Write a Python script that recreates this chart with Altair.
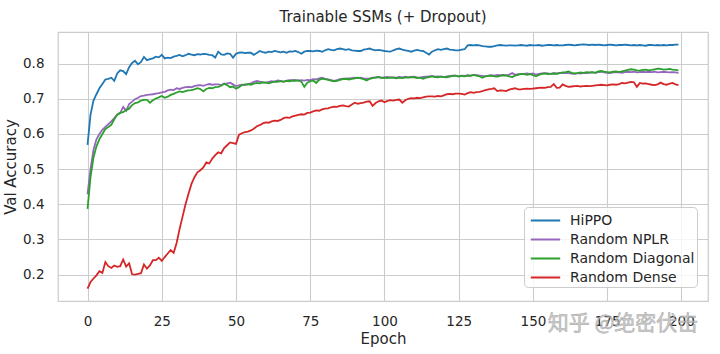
import altair as alt
import pandas as pd

epochs = list(range(200))

hippo = [
    0.569, 0.655, 0.695, 0.713, 0.730, 0.742, 0.755, 0.757, 0.760, 0.751,
    0.772, 0.781, 0.779, 0.770, 0.790, 0.802, 0.808, 0.798, 0.805, 0.819,
    0.810, 0.813, 0.815, 0.820, 0.818, 0.825, 0.815, 0.817, 0.816, 0.820,
    0.822, 0.825, 0.821, 0.824, 0.828, 0.826, 0.824, 0.827, 0.826, 0.828,
    0.827, 0.825, 0.824, 0.817, 0.834, 0.826, 0.825, 0.829, 0.828, 0.817,
    0.828, 0.831, 0.832, 0.830, 0.831, 0.831, 0.825, 0.830, 0.836, 0.833,
    0.831, 0.834, 0.833, 0.836, 0.834, 0.832, 0.834, 0.831, 0.835, 0.834,
    0.836, 0.833, 0.828, 0.834, 0.836, 0.836, 0.835, 0.837, 0.836, 0.834,
    0.838, 0.841, 0.839, 0.838, 0.841, 0.843, 0.841, 0.839, 0.841, 0.838,
    0.837, 0.836, 0.836, 0.840, 0.841, 0.843, 0.840, 0.838, 0.839, 0.838,
    0.836, 0.835, 0.834, 0.838, 0.841, 0.843, 0.840, 0.838, 0.836, 0.834,
    0.837, 0.839, 0.837, 0.836, 0.831, 0.826, 0.834, 0.838, 0.841, 0.839,
    0.841, 0.843, 0.840, 0.839, 0.838, 0.838, 0.840, 0.841, 0.852, 0.853,
    0.852, 0.853, 0.852, 0.850, 0.849, 0.848, 0.848, 0.850, 0.852, 0.853,
    0.852, 0.851, 0.852, 0.852, 0.851, 0.852, 0.853, 0.852, 0.851, 0.853,
    0.852, 0.852, 0.853, 0.851, 0.852, 0.853, 0.853, 0.852, 0.853, 0.852,
    0.852, 0.853, 0.854, 0.853, 0.852, 0.853, 0.854, 0.855, 0.854, 0.853,
    0.854, 0.853, 0.854, 0.853, 0.852, 0.853, 0.854, 0.853, 0.852, 0.853,
    0.853, 0.854, 0.853, 0.852, 0.853, 0.852, 0.853, 0.852, 0.851, 0.853,
    0.853, 0.852, 0.853, 0.852, 0.853, 0.852, 0.853, 0.853, 0.854, 0.854,
]

nplr = [
    0.428, 0.500, 0.555, 0.585, 0.600, 0.612, 0.620, 0.628, 0.636, 0.645,
    0.655, 0.660, 0.677, 0.666, 0.685, 0.692, 0.699, 0.703, 0.708, 0.709,
    0.711, 0.712, 0.713, 0.715, 0.716, 0.718, 0.720, 0.724, 0.726, 0.725,
    0.730, 0.728, 0.731, 0.733, 0.734, 0.733, 0.736, 0.738, 0.739, 0.737,
    0.740, 0.742, 0.740, 0.741, 0.741, 0.739, 0.743, 0.744, 0.746, 0.741,
    0.736, 0.738, 0.740, 0.739, 0.742, 0.744, 0.748, 0.751, 0.749, 0.747,
    0.746, 0.748, 0.750, 0.749, 0.752, 0.751, 0.749, 0.752, 0.753, 0.753,
    0.754, 0.751, 0.753, 0.752, 0.754, 0.753, 0.756, 0.755, 0.758, 0.760,
    0.757, 0.755, 0.753, 0.751, 0.753, 0.756, 0.757, 0.757, 0.758, 0.759,
    0.760, 0.759, 0.760, 0.758, 0.757, 0.758, 0.760, 0.761, 0.762, 0.760,
    0.761, 0.762, 0.760, 0.761, 0.760, 0.762, 0.761, 0.763, 0.761, 0.762,
    0.763, 0.761, 0.760, 0.762, 0.763, 0.764, 0.765, 0.763, 0.764, 0.763,
    0.762, 0.764, 0.765, 0.766, 0.766, 0.764, 0.766, 0.765, 0.767, 0.766,
    0.768, 0.767, 0.766, 0.765, 0.764, 0.766, 0.767, 0.766, 0.768, 0.767,
    0.768, 0.767, 0.769, 0.773, 0.768, 0.770, 0.771, 0.771, 0.772, 0.770,
    0.772, 0.769, 0.771, 0.772, 0.773, 0.772, 0.771, 0.773, 0.772, 0.774,
    0.773, 0.774, 0.773, 0.772, 0.771, 0.773, 0.772, 0.774, 0.773, 0.774,
    0.775, 0.774, 0.776, 0.777, 0.775, 0.774, 0.773, 0.775, 0.776, 0.775,
    0.774, 0.776, 0.777, 0.776, 0.777, 0.775, 0.776, 0.777, 0.776, 0.777,
    0.776, 0.777, 0.775, 0.776, 0.777, 0.776, 0.775, 0.776, 0.775, 0.774,
]

diag = [
    0.387, 0.477, 0.533, 0.565, 0.585, 0.600, 0.614, 0.620, 0.626, 0.642,
    0.655, 0.660, 0.662, 0.668, 0.672, 0.682, 0.688, 0.690, 0.695, 0.697,
    0.697, 0.689, 0.696, 0.701, 0.704, 0.708, 0.703, 0.706, 0.711, 0.714,
    0.718, 0.721, 0.719, 0.722, 0.724, 0.725, 0.727, 0.730, 0.728, 0.721,
    0.728, 0.731, 0.730, 0.733, 0.734, 0.737, 0.743, 0.739, 0.733, 0.735,
    0.729, 0.733, 0.739, 0.741, 0.742, 0.740, 0.743, 0.745, 0.744, 0.747,
    0.746, 0.744, 0.747, 0.749, 0.748, 0.750, 0.748, 0.751, 0.750, 0.752,
    0.751, 0.753, 0.749, 0.734, 0.746, 0.750, 0.752, 0.745, 0.754, 0.757,
    0.756, 0.754, 0.752, 0.750, 0.751, 0.754, 0.756, 0.757, 0.755, 0.757,
    0.758, 0.760, 0.758, 0.756, 0.752, 0.757, 0.759, 0.760, 0.762, 0.759,
    0.760, 0.759, 0.761, 0.760, 0.758, 0.760, 0.759, 0.761, 0.760, 0.762,
    0.761, 0.759, 0.760, 0.757, 0.760, 0.762, 0.764, 0.762, 0.761, 0.763,
    0.762, 0.761, 0.763, 0.765, 0.766, 0.763, 0.765, 0.764, 0.766, 0.765,
    0.768, 0.766, 0.764, 0.760, 0.764, 0.765, 0.766, 0.764, 0.763, 0.765,
    0.767, 0.766, 0.764, 0.762, 0.766, 0.768, 0.771, 0.770, 0.768, 0.770,
    0.767, 0.764, 0.768, 0.771, 0.772, 0.770, 0.771, 0.772, 0.771, 0.773,
    0.775, 0.776, 0.778, 0.774, 0.772, 0.773, 0.775, 0.774, 0.776, 0.775,
    0.776, 0.774, 0.778, 0.779, 0.777, 0.776, 0.775, 0.777, 0.778, 0.776,
    0.778, 0.780, 0.782, 0.784, 0.783, 0.781, 0.780, 0.782, 0.783, 0.781,
    0.782, 0.784, 0.786, 0.785, 0.783, 0.784, 0.785, 0.783, 0.782, 0.781,
]

dense = [
    0.160, 0.179, 0.189, 0.198, 0.210, 0.205, 0.236, 0.224, 0.219, 0.226,
    0.222, 0.224, 0.243, 0.223, 0.232, 0.201, 0.200, 0.202, 0.204, 0.229,
    0.217, 0.226, 0.241, 0.241, 0.248, 0.239, 0.250, 0.260, 0.270, 0.262,
    0.290, 0.330, 0.365, 0.400, 0.430, 0.458, 0.477, 0.491, 0.497, 0.505,
    0.519, 0.516, 0.530, 0.540, 0.548, 0.545, 0.560, 0.568, 0.576, 0.574,
    0.572, 0.598, 0.602, 0.605, 0.607, 0.610, 0.615, 0.622, 0.625, 0.630,
    0.633, 0.632, 0.636, 0.638, 0.637, 0.640, 0.645, 0.647, 0.646, 0.650,
    0.652, 0.654, 0.656, 0.655, 0.660, 0.661, 0.664, 0.667, 0.666, 0.670,
    0.672, 0.673, 0.676, 0.678, 0.677, 0.680, 0.681, 0.679, 0.678, 0.684,
    0.689, 0.686, 0.688, 0.689, 0.692, 0.693, 0.680, 0.688, 0.693, 0.695,
    0.690, 0.694, 0.696, 0.695, 0.697, 0.698, 0.689, 0.696, 0.700, 0.702,
    0.701, 0.703, 0.702, 0.704, 0.706, 0.707, 0.707, 0.706, 0.708, 0.707,
    0.710, 0.713, 0.714, 0.713, 0.715, 0.715, 0.714, 0.712, 0.716, 0.719,
    0.717, 0.719, 0.720, 0.722, 0.725, 0.727, 0.728, 0.730, 0.722, 0.724,
    0.723, 0.722, 0.726, 0.728, 0.730, 0.727, 0.727, 0.728, 0.729, 0.728,
    0.729, 0.730, 0.731, 0.732, 0.731, 0.733, 0.734, 0.742, 0.731, 0.732,
    0.741, 0.737, 0.734, 0.735, 0.736, 0.737, 0.735, 0.736, 0.737, 0.736,
    0.737, 0.738, 0.739, 0.740, 0.739, 0.738, 0.740, 0.741, 0.740, 0.742,
    0.745, 0.744, 0.746, 0.748, 0.747, 0.734, 0.745, 0.743, 0.744, 0.742,
    0.740, 0.739, 0.741, 0.746, 0.742, 0.740, 0.743, 0.745, 0.741, 0.739,
]

series_names = ["HiPPO", "Random NPLR", "Random Diagonal", "Random Dense"]
series_colors = ["#1f77b4", "#9467bd", "#2ca02c", "#d62728"]
x_ticks = [0, 25, 50, 75, 100, 125, 150, 175, 200]
y_ticks = [0.2, 0.3, 0.4, 0.5, 0.6, 0.7, 0.8]
title_text = "Trainable SSMs (+ Dropout)"
watermark = ["知乎 @绝密伏击"]

rows = []
for name, vals in zip(series_names, [hippo, nplr, diag, dense]):
    for e, v in zip(epochs, vals):
        rows.append({"Epoch": e, "Val": v, "Series": name})
df = pd.DataFrame(rows)

FONT = "DejaVu Sans"
TXT = "#262626"

lines = alt.Chart(df).mark_line(strokeWidth=1.8).encode(
    x=alt.X("Epoch:Q",
            scale=alt.Scale(domain=[-9.95, 208.95], nice=False, zero=False),
            axis=alt.Axis(values=x_ticks, title="Epoch", format="d")),
    y=alt.Y("Val:Q",
            scale=alt.Scale(domain=[0.125, 0.89], nice=False, zero=False),
            axis=alt.Axis(values=y_ticks, title="Val Accuracy", format=".1f")),
    color=alt.Color("Series:N",
                    scale=alt.Scale(domain=series_names, range=series_colors),
                    sort=series_names,
                    legend=alt.Legend(title=None, orient="none",
                                      legendX=466, legendY=175)),
)

wm = alt.Chart(pd.DataFrame({"t": watermark})).mark_text(
    font="Noto Sans CJK SC", fontSize=21, color="#c4c4c4", opacity=0.85,
    stroke="#9a9a9a", strokeWidth=0.5,
    align="center", baseline="middle",
).encode(text="t:N", x=alt.value(565), y=alt.value(292))

chart = alt.layer(lines, wm).properties(
    width=650, height=269,
    title=alt.TitleParams(title_text, fontSize=15, font=FONT, color=TXT,
                          fontWeight="normal", offset=7),
    padding={"left": 58, "top": 32, "right": 12, "bottom": 53},
    autosize=alt.AutoSizeParams(type="none"),
).configure_view(
    stroke="#cccccc", strokeWidth=1.25, fill="white",
).configure_axis(
    grid=True, gridColor="#cccccc", gridWidth=1.1, domain=False, ticks=False,
    labelFont=FONT, labelFontSize=13.5, labelColor=TXT,
    titleFont=FONT, titleFontSize=15, titleColor=TXT, titleFontWeight="normal",
).configure_axisX(
    labelPadding=13, titlePadding=4,
).configure_axisY(
    labelPadding=14, titlePadding=4,
).configure_legend(
    fillColor="rgba(255,255,255,0.8)", strokeColor="#cccccc", cornerRadius=4,
    padding=2, labelFont=FONT, labelFontSize=14, labelColor=TXT,
    symbolType="M-1.4,0H1.4", symbolSize=441, symbolStrokeWidth=2,
    symbolOffset=8, labelOffset=13, rowPadding=0,
)

chart.save("out.html", embed_options={"renderer": "svg", "actions": False})
